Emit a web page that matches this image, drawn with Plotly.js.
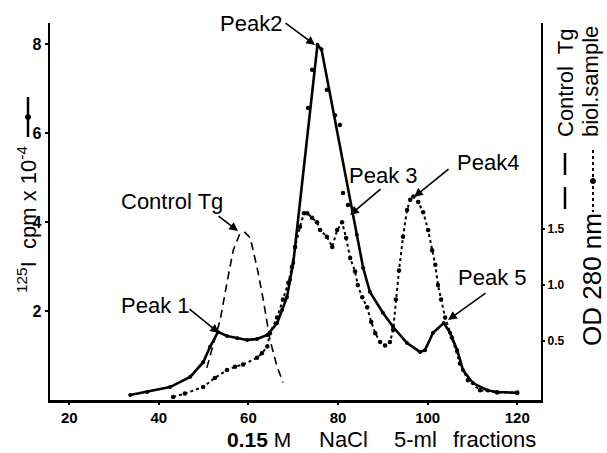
<!DOCTYPE html>
<html>
<head>
<meta charset="utf-8">
<script src="https://cdn.plot.ly/plotly-3.0.1.min.js"></script>
<style>html,body{margin:0;padding:0;background:#fff;}#chart{width:607px;height:453px;}</style>
</head>
<body>
<div id="chart"></div>
<script>
// ---- data (fraction number, values) ----
const xTicks = [20, 40, 60, 80, 100, 120];
const cpmTicks = [2, 4, 6, 8];
const odTicks = [0.5, 1.0, 1.5];
const odTickText = ['0.5', '1.0', '1.5'];

// 125I cpm x 10^-4 (solid line)
const cpmX = [33.6, 37.4, 42.5, 47.0, 49.9, 51.4, 53.2, 55.2, 57.5, 59.7, 61.9, 64.2, 66.4, 67.5, 68.6, 69.3, 70.0, 70.4,
              75.4, 76.3, 84.2, 85.6, 87.1, 90.0, 92.3, 95.4, 98.3, 99.4, 101.2, 103.6, 105.0, 106.6, 107.9, 110.1, 113.3, 115.5, 120.0];
const cpmY = [0.11, 0.18, 0.29, 0.52, 0.85, 1.19, 1.53, 1.44, 1.39, 1.35, 1.37, 1.46, 1.73, 2.02, 2.31, 2.70, 3.08, 3.44,
              7.98, 7.88, 3.71, 2.97, 2.43, 1.96, 1.64, 1.28, 1.08, 1.12, 1.51, 1.73, 1.51, 1.12, 0.67, 0.38, 0.22, 0.18, 0.16];
// individual counted fractions around Peak 2
const cpmDotsX = [73.3, 74.2, 77.5, 79.3, 80.4, 81.1, 82.2];
const cpmDotsY = [6.56, 7.42, 6.97, 6.40, 6.18, 4.65, 4.38];

// OD 280 nm, biol. sample (dotted line)
const odSampleX = [43.2, 45.8, 49.9, 52.5, 55.2, 57.0, 58.8, 61.9, 63.0, 64.2, 64.8, 66.4, 67.7, 68.9, 69.7, 70.4, 71.5, 72.4, 73.1,
                   74.2, 75.3, 76.0, 77.5, 78.7, 79.8, 80.9, 81.8, 82.7, 83.8, 84.4, 85.4, 86.5, 87.4, 88.3, 89.4, 90.5, 91.6,
                   92.3, 92.9, 93.6, 94.5, 95.4, 96.1, 96.8, 97.9, 99.0, 100.1, 101.0, 101.7, 102.3, 103.0, 103.9, 105.4,
                   107.2, 109.0, 111.7, 115.5, 120.0];
const odSampleY = [0.00, 0.03, 0.09, 0.17, 0.24, 0.27, 0.29, 0.35, 0.39, 0.45, 0.57, 0.71, 0.87, 1.02, 1.16, 1.34, 1.52, 1.64, 1.64,
                   1.60, 1.56, 1.49, 1.43, 1.34, 1.49, 1.56, 1.42, 1.24, 1.12, 1.00, 0.89, 0.80, 0.67, 0.57, 0.49, 0.46, 0.49,
                   0.60, 0.87, 1.13, 1.43, 1.67, 1.76, 1.79, 1.74, 1.65, 1.49, 1.31, 1.18, 1.00, 0.87, 0.71, 0.53,
                   0.30, 0.15, 0.06, 0.04, 0.04];

// OD 280 nm, control Tg (dashed line)
const odControlX = [50.7, 52.0, 53.7, 55.2, 56.6, 58.1, 59.2, 60.4, 61.9, 63.3, 64.8, 66.4, 67.7];
const odControlY = [0.26, 0.45, 0.69, 1.02, 1.31, 1.46, 1.47, 1.42, 1.16, 0.87, 0.51, 0.27, 0.13];

const peakLabels = ['Peak 1', 'Peak2', 'Peak 3', 'Peak4', 'Peak 5', 'Control Tg'];

// ---- geometry helpers (plot area in pixels) ----
const PL = 50, PR = 541, PT = 23, PB = 400;
const px = v => (v - PL) / (PR - PL);
const py = v => (PB - v) / (PB - PT);

const FONT = 'Liberation Sans, Arial, sans-serif';
const NARROW = 'Liberation Sans Narrow, Liberation Sans, Arial, sans-serif';

const traces = [
  {x: odControlX, y: odControlY, yaxis: 'y2', mode: 'lines', name: 'Control Tg',
   line: {color: '#000', width: 1.6, dash: '8px,5px'}},
  {x: odSampleX, y: odSampleY, yaxis: 'y2', mode: 'lines+markers', name: 'biol. sample (OD 280 nm)',
   line: {color: '#000', width: 2, dash: 'dot'}, marker: {color: '#000', size: 4.5}},
  {x: cpmX, y: cpmY, mode: 'lines+markers', name: '125I cpm',
   line: {color: '#000', width: 2.6}, marker: {color: '#000', size: 4}},
  {x: cpmDotsX, y: cpmDotsY, mode: 'markers', name: '125I cpm fractions',
   marker: {color: '#000', size: 4.5}}
];

function txt(text, cx, cy, size, family, angle) {
  return {text: text, xref: 'paper', yref: 'paper', x: px(cx), y: py(cy), xanchor: 'center', yanchor: 'middle',
          textangle: angle || 0, showarrow: false, borderpad: 0,
          font: {family: family || FONT, size: size || 22, color: '#000'}};
}
function arrow(hx, hy, tx, ty) {
  // head given in pixels; converted to data coords of the x / y axes
  const xd = 70 + (hx - 293.2) / 4.48;
  const yd = (PB - hy) / 44.5;
  return {text: '', x: xd, y: yd, xref: 'x', yref: 'y', ax: tx - hx, ay: ty - hy, showarrow: true,
          arrowhead: 2, arrowsize: 1.1, arrowwidth: 1.6, arrowcolor: '#000'};
}

const annotations = [
  txt(peakLabels[1], 251, 23),
  txt(peakLabels[5], 172, 201),
  txt(peakLabels[0], 155, 305),
  txt(peakLabels[2], 383, 175),
  txt(peakLabels[3], 488, 163),
  txt(peakLabels[4], 492, 277),
  arrow(315, 45, 284, 22),
  arrow(238, 231, 217, 215),
  arrow(219, 333, 188, 308),
  arrow(350, 215, 382, 188),
  arrow(414, 197, 450, 168),
  arrow(448, 320, 487, 292),
  // x-axis caption
  txt('<b>0.15</b> M', 259, 439, 21, NARROW),
  txt('NaCl', 343, 439, 22),
  txt('5-ml', 415, 439, 22),
  txt('fractions', 494, 439, 22),
  // left axis caption
  txt('<sup>125</sup>I  cpm x 10<sup>-4</sup>', 27, 220, 22, FONT, -90),
  // right axis captions
  txt('Control  Tg', 565, 83, 22, FONT, -90),
  txt('biol.sample', 591, 82, 22, FONT, -90),
  txt('OD 280 nm', 592, 280, 26, FONT, -90)
];

const dotW = 5 / (PR - PL), dotH = 5 / (PB - PT);
const shapes = [
  // left legend symbol (solid line with dot)
  {type: 'line', xref: 'paper', yref: 'paper', x0: px(28), x1: px(28), y0: py(97), y1: py(137), line: {color: '#000', width: 2.5}},
  {type: 'circle', xref: 'paper', yref: 'paper', x0: px(28) - dotW / 2, x1: px(28) + dotW / 2, y0: py(117) - dotH / 2, y1: py(117) + dotH / 2,
   fillcolor: '#000', line: {color: '#000', width: 1}},
  // dashed symbol for Control Tg
  {type: 'line', xref: 'paper', yref: 'paper', x0: px(565), x1: px(565), y0: py(153), y1: py(213), line: {color: '#000', width: 2.5, dash: '22px,12px'}},
  // dotted symbol for biol. sample
  {type: 'line', xref: 'paper', yref: 'paper', x0: px(593), x1: px(593), y0: py(150), y1: py(212), line: {color: '#000', width: 2, dash: 'dot'}},
  {type: 'circle', xref: 'paper', yref: 'paper', x0: px(593) - dotW / 2, x1: px(593) + dotW / 2, y0: py(181) - dotH / 2, y1: py(181) + dotH / 2,
   fillcolor: '#000', line: {color: '#000', width: 1}}
];

const layout = {
  width: 607, height: 453,
  margin: {l: PL, r: 607 - PR, t: PT, b: 453 - PB},
  paper_bgcolor: '#fff', plot_bgcolor: '#fff',
  showlegend: false,
  xaxis: {range: [15.7, 125.3], tickvals: xTicks, ticks: 'outside', ticklen: 2, tickwidth: 2, tickcolor: '#000',
          showline: true, linewidth: 2.5, linecolor: '#000', showgrid: false, zeroline: false,
          tickfont: {family: NARROW, size: 15, weight: 'bold', color: '#000'}},
  yaxis: {range: [0, 8.47], tickvals: cpmTicks, ticks: 'outside', ticklen: 3, tickwidth: 2, tickcolor: '#000',
          showline: true, linewidth: 2.5, linecolor: '#000', showgrid: false, zeroline: false,
          tickfont: {family: NARROW, size: 16, weight: 'bold', color: '#000'}},
  yaxis2: {range: [-0.027, 3.339], overlaying: 'y', side: 'right', tickvals: odTicks, ticktext: odTickText,
           ticks: 'outside', ticklen: 2, tickwidth: 2, tickcolor: '#000',
           showline: true, linewidth: 2.2, linecolor: '#000', showgrid: false, zeroline: false,
           tickfont: {family: NARROW, size: 12, weight: 'bold', color: '#000'}},
  annotations: annotations,
  shapes: shapes
};

Plotly.newPlot('chart', traces, layout, {staticPlot: true, displayModeBar: false});
</script>
</body>
</html>
